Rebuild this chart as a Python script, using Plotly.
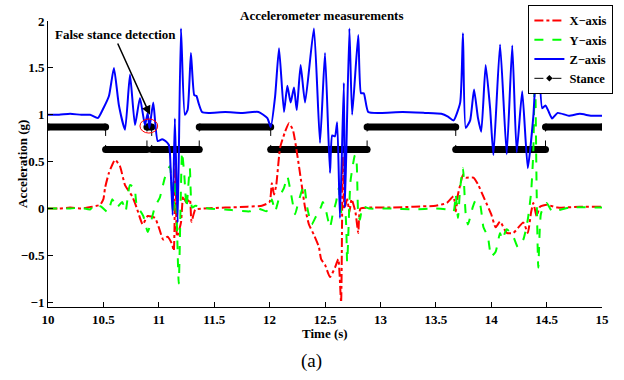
import plotly.graph_objects as go

# ---------------- data ----------------
t_z = [10.0, 10.1, 10.2, 10.3, 10.38, 10.45, 10.5, 10.55, 10.595, 10.64, 10.695, 10.74, 10.785,
       10.83, 10.875, 10.9, 10.915, 10.95, 10.99, 11.03, 11.06, 11.09, 11.1, 11.125, 11.145, 11.17,
       11.2, 11.235, 11.26, 11.29, 11.32, 11.34, 11.36, 11.39, 11.45, 11.6, 11.75, 11.9, 11.98,
       12.01, 12.05, 12.085, 12.13, 12.16, 12.19, 12.22, 12.245, 12.28, 12.32, 12.4, 12.455, 12.5,
       12.545, 12.565, 12.59, 12.61, 12.635, 12.67, 12.68, 12.72, 12.745, 12.8, 12.825, 12.85,
       12.89, 13.0, 13.2, 13.4, 13.55, 13.61, 13.66, 13.72, 13.745, 13.77, 13.81, 13.845, 13.88,
       13.91, 13.95, 13.99, 14.02, 14.08, 14.14, 14.19, 14.23, 14.28, 14.33, 14.38, 14.42, 14.46,
       14.49, 14.52, 14.55, 14.6, 14.7, 14.8, 14.9, 15.0]
z_axis = [1.0, 1.0, 1.01, 1.0, 1.0, 0.965, 1.07, 1.2, 1.5, 1.1, 0.84, 1.43, 0.89,
          1.18, 0.89, 1.02, 0.86, 1.13, 0.72, 0.74, 0.72, 0.68, 0.6, -0.07, 0.96, -0.15,
          1.92, 1.0, 1.05, 1.66, 1.21, 1.2, 1.12, 1.03, 1.02, 1.03, 1.02, 1.03, 0.965,
          0.87, 1.2, 1.71, 1.03, 1.31, 1.13, 1.29, 1.05, 1.53, 1.13, 1.92, 0.7, 1.66,
          0.38, 0.78, 0.77, 0.92, -0.1, 1.34, 0.01, 1.92, 1.0, 1.85, 1.23, 1.23,
          1.03, 1.02, 1.03, 1.02, 1.01, 0.98, 0.94, 1.13, 1.87, 0.86, 0.94, 1.27, 0.97,
          0.82, 1.53, 1.07, 0.57, 1.75, 0.58, 1.74, 0.6, 1.25, 0.43, 0.98, 1.77, 1.07,
          1.1, 1.03, 0.96, 1.02, 0.99, 1.01, 0.99, 0.99]

t_x = [10.0, 10.1, 10.2, 10.3, 10.4, 10.47, 10.5, 10.515, 10.55, 10.605, 10.65, 10.695, 10.76,
       10.8, 10.855, 10.9, 10.965, 11.0, 11.04, 11.08, 11.12, 11.135, 11.15, 11.165, 11.2, 11.22,
       11.25, 11.28, 11.295, 11.33, 11.4, 11.6, 11.8, 11.93, 12.0, 12.02, 12.04, 12.06, 12.095,
       12.14, 12.175, 12.21, 12.25, 12.285, 12.32, 12.355, 12.4, 12.445, 12.465, 12.5, 12.545,
       12.59, 12.62, 12.645, 12.66, 12.675, 12.7, 12.72, 12.74, 12.775, 12.8, 12.82, 12.9, 13.1,
       13.3, 13.5, 13.6, 13.66, 13.68, 13.7, 13.72, 13.745, 13.77, 13.84, 13.88, 13.94, 14.0,
       14.04, 14.08, 14.14, 14.2, 14.29, 14.33, 14.36, 14.38, 14.41, 14.44, 14.5, 14.6, 14.8, 15.0]
x_axis = [0.0, 0.0, 0.01, 0.0, 0.02, 0.04, 0.1, 0.22, 0.38, 0.52, 0.45, 0.25, 0.13,
          0.01, -0.17, -0.08, -0.1, -0.2, -0.33, -0.3, -0.38, -0.45, 0.55, -0.3, -0.15, 0.13,
          0.06, 0.1, -0.14, -0.01, 0.0, 0.01, 0.02, 0.03, 0.07, 0.27, 0.15, 0.25, 0.65,
          0.82, 0.91, 0.84, 0.57, 0.29, 0.01, -0.17, -0.28, -0.41, -0.54, -0.6, -0.73,
          -0.63, -0.54, -1.0, 0.55, 0.0, 0.1, -0.04, 0.1, -0.04, -0.26, 0.0, 0.01, 0.01,
          0.02, 0.03, 0.06, 0.13, -0.03, 0.15, 0.25, 0.36, 0.33, 0.33, 0.26, 0.1, -0.06,
          -0.2, -0.14, -0.26, -0.26, -0.15, -0.26, -0.04, 0.06, -0.08, 0.02, 0.04, 0.01, 0.02, 0.02]

t_y = [10.0, 10.2, 10.3, 10.38, 10.42, 10.48, 10.54, 10.58, 10.62, 10.67, 10.7, 10.74, 10.78,
       10.8, 10.86, 10.9, 10.93, 10.965, 11.01, 11.055, 11.1, 11.13, 11.15, 11.18, 11.21, 11.23,
       11.25, 11.28, 11.3, 11.33, 11.37, 11.45, 11.6, 11.82, 11.9, 11.97, 12.0, 12.02, 12.05,
       12.09, 12.13, 12.16, 12.19, 12.23, 12.26, 12.31, 12.34, 12.38, 12.42, 12.465, 12.48, 12.51,
       12.545, 12.57, 12.6, 12.625, 12.65, 12.68, 12.7, 12.73, 12.77, 12.785, 12.8, 12.815, 12.84,
       12.9, 13.1, 13.3, 13.5, 13.6, 13.66, 13.68, 13.7, 13.72, 13.745, 13.77, 13.79, 13.835,
       13.86, 13.9, 13.93, 13.97, 14.0, 14.04, 14.08, 14.1, 14.14, 14.2, 14.24, 14.29, 14.33,
       14.36, 14.38, 14.395, 14.41, 14.425, 14.45, 14.5, 14.55, 14.7, 15.0]
y_axis = [0.0, 0.0, 0.01, -0.01, 0.04, 0.02, -0.04, 0.1, 0.01, 0.07, -0.03, 0.25, 0.22,
          0.04, -0.08, -0.25, -0.14, 0.02, 0.12, 0.33, 0.45, -0.06, 0.3, -0.8, 0.6, 0.36,
          0.01, 0.43, 0.01, 0.03, 0.02, 0.0, -0.01, -0.03, 0.0, -0.03, 0.01, 0.1, -0.03,
          0.13, 0.22, 0.34, 0.18, -0.06, 0.07, 0.25, 0.01, -0.17, -0.08, 0.02, 0.07, -0.03,
          -0.2, -0.06, 0.07, 0.22, -0.05, -0.03, -0.57, 0.29, 0.57, 0.5, -0.06, -0.12, 0.02,
          0.0, 0.0, -0.01, 0.0, -0.01, -0.03, 0.15, -0.1, 0.22, 0.43, -0.06, -0.17, 0.02,
          0.09, 0.04, -0.2, -0.3, -0.51, -0.46, -0.26, -0.33, -0.22, -0.3, -0.41, -0.33, -0.12,
          0.17, 0.6, 1.56, 0.2, -0.63, -0.05, 0.06, -0.03, 0.01, 0.01]

stance_t = [10.0, 10.52, 10.893, 10.936, 11.365, 12.01, 12.88, 13.68, 14.49, 15.0]
stance_level = [0.87, 0.63, 0.87, 0.63, 0.87, 0.63, 0.87, 0.63, 0.87]

x_ticks = [10, 10.5, 11, 11.5, 12, 12.5, 13, 13.5, 14, 14.5, 15]
x_tick_labels = ["10", "10.5", "11", "11.5", "12", "12.5", "13", "13.5", "14", "14.5", "15"]
y_ticks = [-1, -0.5, 0, 0.5, 1, 1.5, 2]
y_tick_labels = ["\u22121", "\u22120.5", "0", "0.5", "1", "1.5", "2"]

# ---------------- build stance geometry ----------------
seg_x, seg_y = [], []
for i, lev in enumerate(stance_level):
    seg_x += [stance_t[i], stance_t[i + 1], None]
    seg_y += [lev, lev, None]
tr_x, tr_y = [], []
for i in range(1, len(stance_level)):
    tr_x += [stance_t[i], stance_t[i], None]
    tr_y += [stance_level[i - 1], stance_level[i], None]

SERIF = "Liberation Serif, Times New Roman, serif"
SMOOTH = 0.5
fig = go.Figure()
fig.add_trace(go.Scatter(x=tr_x, y=tr_y, mode="lines+markers", name="Stance",
                         line=dict(color="black", width=1, dash="dash"),
                         marker=dict(symbol="diamond", size=5, color="black"),
                         legendrank=4))
fig.add_trace(go.Scatter(x=seg_x, y=seg_y, mode="lines+markers", showlegend=False,
                         line=dict(color="black", width=7),
                         marker=dict(symbol="circle", size=7, color="black")))
fig.add_trace(go.Scatter(x=t_x, y=x_axis, mode="lines", name="X\u2212axis",
                         line=dict(color="#ff0000", width=2, dash="dashdot",
                                   shape="spline", smoothing=SMOOTH), legendrank=1))
fig.add_trace(go.Scatter(x=t_y, y=y_axis, mode="lines", name="Y\u2212axis",
                         line=dict(color="#00ff00", width=2, dash="dash",
                                   shape="spline", smoothing=SMOOTH), legendrank=2))
fig.add_trace(go.Scatter(x=t_z, y=z_axis, mode="lines", name="Z\u2212axis",
                         line=dict(color="#0000ff", width=2,
                                   shape="spline", smoothing=SMOOTH), legendrank=3))

tickfont = dict(family=SERIF, size=13, color="black", weight="bold")
fig.update_xaxes(range=[10, 15], tickvals=x_ticks, ticktext=x_tick_labels,
                 ticks="inside", ticklen=5, tickcolor="black", showline=True,
                 linecolor="black", linewidth=1, showgrid=False, zeroline=False,
                 tickfont=tickfont)
fig.update_yaxes(range=[-1.05, 2], tickvals=y_ticks, ticktext=y_tick_labels,
                 ticks="inside", ticklen=5, tickcolor="black", showline=True,
                 linecolor="black", linewidth=1, showgrid=False, zeroline=False,
                 tickfont=tickfont)

bold13 = dict(family=SERIF, size=13, color="black", weight="bold")
fig.update_layout(
    width=624, height=380, autosize=False,
    margin=dict(l=48, r=22, t=21, b=73, autoexpand=False),
    paper_bgcolor="white", plot_bgcolor="white",
    legend=dict(xref="container", yref="container", x=0.983, y=0.987,
                xanchor="right", yanchor="top",
                bgcolor="white", bordercolor="black", borderwidth=1,
                font=dict(family=SERIF, size=12.5, color="black", weight="bold"),
                itemwidth=30, traceorder="normal", tracegroupgap=0),
    annotations=[
        dict(text="Accelerometer measurements", xref="paper", yref="paper",
             x=0.5, y=1, yshift=6, xshift=-3, showarrow=False, font=bold13,
             xanchor="center", yanchor="middle"),
        dict(text="False stance detection", xref="x", yref="y", x=10.61, y=1.86,
             showarrow=False, font=bold13, xanchor="center", yanchor="middle"),
        dict(text="", xref="x", yref="y", x=10.92, y=1.0, ax=10.623, ay=1.776,
             axref="x", ayref="y", showarrow=True, arrowhead=2, arrowsize=1.2,
             arrowwidth=1.5, arrowcolor="black"),
        dict(text="Acceleration (g)", xref="paper", yref="paper", x=0, y=0.5,
             xshift=-26, textangle=-90, showarrow=False, font=bold13,
             xanchor="center", yanchor="middle"),
        dict(text="Time (s)", xref="paper", yref="paper", x=0.5, y=0,
             yshift=-26, showarrow=False, font=bold13,
             xanchor="center", yanchor="middle"),
        dict(text="(a)", xref="paper", yref="paper", x=0.5, y=0, xshift=-14,
             yshift=-54, showarrow=False,
             font=dict(family=SERIF, size=19, color="black"),
             xanchor="center", yanchor="middle"),
    ],
    shapes=[dict(type="circle", xref="x", yref="y", x0=10.83, x1=10.99,
                 y0=0.805, y1=0.955, line=dict(color="red", width=1))],
)
fig.write_html("out.html", config={"displayModeBar": False},
               post_script="document.body.style.margin='0';document.body.style.overflow='hidden';")
